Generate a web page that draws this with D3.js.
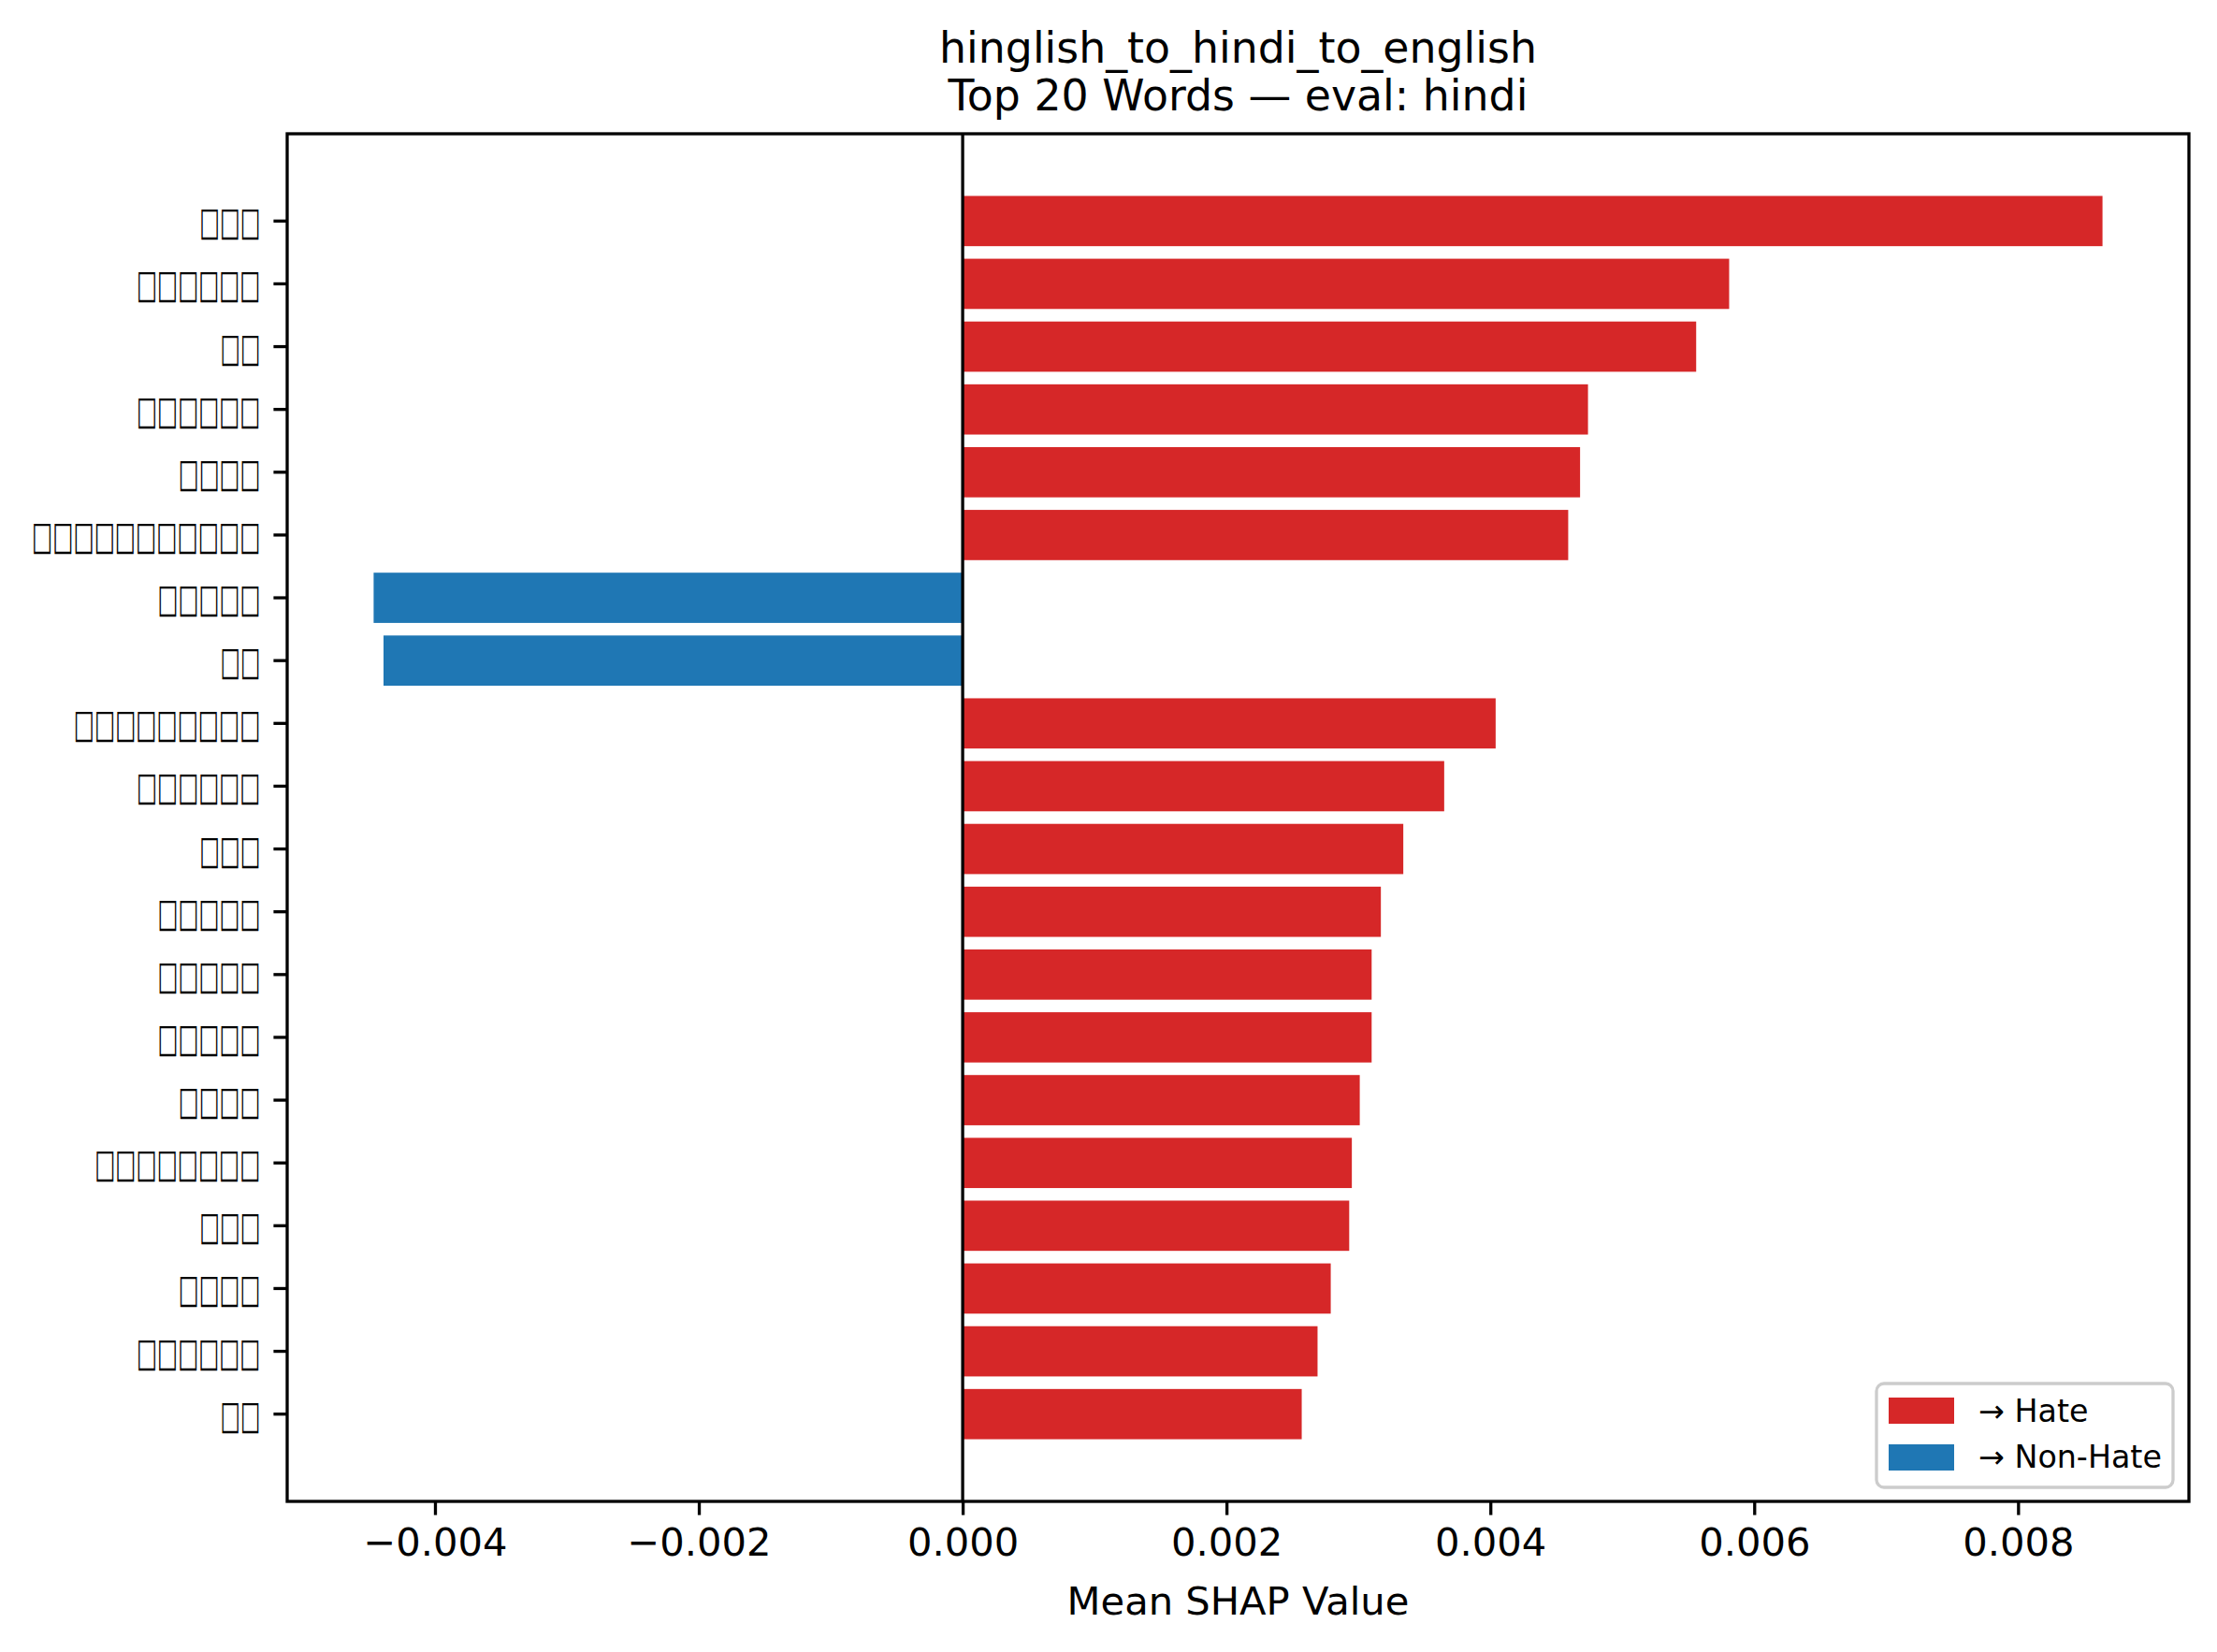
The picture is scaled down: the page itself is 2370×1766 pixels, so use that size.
<!DOCTYPE html>
<html><head><meta charset="utf-8">
<script src="https://cdn.jsdelivr.net/npm/d3@7"></script>
<style>body{margin:0;background:#fff} text{font-family:"DejaVu Sans",sans-serif;fill:#000}</style>
</head><body><svg id="c" width="2370" height="1766"></svg>
<script>
// Word labels (rendered as missing-glyph boxes in the reference), top to bottom
const words = ["□□□","□□□□□□","□□","□□□□□□","□□□□","□□□□□□□□□□□","□□□□□","□□",
  "□□□□□□□□□","□□□□□□","□□□","□□□□□","□□□□□","□□□□□","□□□□","□□□□□□□□","□□□","□□□□","□□□□□□","□□"];
const values = [0.00864,0.00581,0.00556,0.00474,0.00468,0.00459,-0.004465,-0.00439,
  0.00404,0.00365,0.00334,0.00317,0.00310,0.00310,0.00301,0.00295,0.00293,0.00279,0.00269,0.00257];
const xTicks = [-0.004,-0.002,0,0.002,0.004,0.006,0.008];
const titleLines = ["hinglish_to_hindi_to_english","Top 20 Words — eval: hindi"];
const xLabel = "Mean SHAP Value";
const legendLabels = ["→ Hate","→ Non-Hate"];
const legendColors = ["#d62728","#1f77b4"];

const svg = d3.select("#c");
const L=307, R=2340, T=143, B=1605;
const [mn,mx] = d3.extent(values);
const pad = (mx-mn)*0.05;
const x = d3.scaleLinear().domain([mn-pad, mx+pad]).range([L,R]);
const y = d3.scaleBand().domain(d3.range(words.length)).range([T,B]).paddingInner(0.2).paddingOuter(0.99);
const lw = 3.3;

// bars
svg.append("g").selectAll("rect").data(values).join("rect")
  .attr("x", d=>Math.min(x(0),x(d)))
  .attr("width", d=>Math.abs(x(d)-x(0)))
  .attr("y", (d,i)=>y(i))
  .attr("height", y.bandwidth())
  .attr("fill", d=> d>=0 ? legendColors[0] : legendColors[1]);

// zero line
svg.append("line").attr("x1",x(0)).attr("x2",x(0)).attr("y1",T).attr("y2",B)
  .attr("stroke","#000").attr("stroke-width",lw);

// x axis
const fmt = d=> (d<0?"\u2212":"") + Math.abs(d).toFixed(3);
const xAxis = d3.axisBottom(x).tickValues(xTicks).tickFormat(fmt).tickSize(14.6).tickPadding(14);
const gx = svg.append("g").attr("transform",`translate(0,${B})`).call(xAxis);
gx.select(".domain").remove();
gx.selectAll(".tick line").attr("stroke","#000").attr("stroke-width",lw);
gx.selectAll(".tick text").attr("font-size",41.67).attr("font-family","DejaVu Sans").attr("fill","#000");

// y axis
const yAxis = d3.axisLeft(y).tickFormat(i=>words[i]).tickSize(14.6).tickPadding(14);
const gy = svg.append("g").attr("transform",`translate(${L},0)`).call(yAxis);
gy.select(".domain").remove();
gy.selectAll(".tick line").attr("stroke","#000").attr("stroke-width",lw);
gy.selectAll(".tick text").attr("font-size",41.67).attr("font-family","DejaVu Sans").attr("fill","#000")
  .attr("dy","0.36em")
  .attr("textLength", i=>words[i].length*22.4-2).attr("lengthAdjust","spacingAndGlyphs");

// frame
svg.append("rect").attr("x",L).attr("y",T).attr("width",R-L).attr("height",B-T)
  .attr("fill","none").attr("stroke","#000").attr("stroke-width",lw);

// title
svg.append("g").selectAll("text").data(titleLines).join("text")
  .attr("x",(L+R)/2).attr("y",(d,i)=>67+i*51).attr("text-anchor","middle")
  .attr("font-size",45.8).text(d=>d);

// x label
svg.append("text").attr("x",(L+R)/2).attr("y",1726).attr("text-anchor","middle")
  .attr("font-size",41.67).text(xLabel);

// legend
const lg = svg.append("g");
lg.append("rect").attr("x",2006).attr("y",1479).attr("width",317).attr("height",111)
  .attr("rx",8).attr("fill","#fff").attr("fill-opacity",0.8).attr("stroke","#cccccc").attr("stroke-width",3.3);
legendLabels.forEach((t,i)=>{
  lg.append("rect").attr("x",2019).attr("y",1494+i*50).attr("width",70).attr("height",28).attr("fill",legendColors[i]);
  lg.append("text").attr("x",2115).attr("y",1520+i*49).attr("font-size",33.3).text(t);
});
</script></body></html>
